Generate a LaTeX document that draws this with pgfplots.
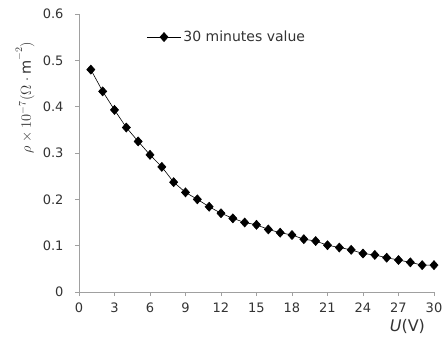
\documentclass[border=0pt]{standalone}
\usepackage{pgfplots}
\pgfplotsset{compat=1.18}
\usepackage{fontspec}
\setmainfont{DejaVu Sans}
\definecolor{axgray}{HTML}{A0A0A0}
\definecolor{txt}{HTML}{333333}
\begin{document}
\begin{tikzpicture}
\begin{axis}[
  scale only axis, width=355pt, height=278pt,
  at={(0,0)}, anchor=south west,
  xmin=0, xmax=30, ymin=0, ymax=0.6,
  xtick={0,3,...,30}, ytick={0,0.1,...,0.6},
  axis lines*=left,
  axis line style={axgray, line width=0.8pt},
  tick style={axgray, line width=0.8pt},
  tick align=outside, major tick length=4pt,
  /pgf/number format/assume math mode=true,
  /pgf/number format/fixed,
  /pgf/number format/precision=1,
  ticklabel style={font=\fontsize{13}{15}\selectfont, text=txt},
  xticklabel style={yshift=-3pt},
  yticklabel style={xshift=-8pt},
  x axis line style={-}, y axis line style={-},
  xlabel={\textit{U}(V)},
  every axis x label/.style={at={(axis description cs:0.925,-0.085)}, anchor=north, font=\fontsize{16}{18}\selectfont, text=txt},
  ylabel={$\rho\times10^{-7}(\Omega\cdot\mathrm{m}^{-2})$},
  every axis y label/.style={at={(axis description cs:-0.152,0.70)}, anchor=center, rotate=90, font=\fontsize{14.5}{17}\selectfont, text=txt},
  legend style={at={(axis description cs:0.19,0.917)}, anchor=west, draw=none, fill=none, font=\fontsize{14}{16}\selectfont, text=txt, inner sep=0pt},
  legend cell align=left,
  legend image code/.code={\draw[mark repeat=2,mark phase=2] plot coordinates {(0cm,0cm) (0.6cm,0cm) (1.2cm,0cm)};},
]
\addplot[black, line width=0.6pt, mark=diamond*, mark size=4.5pt, mark options={fill=black, xscale=1.2}] coordinates {
(1,0.480) (2,0.433) (3,0.393) (4,0.355) (5,0.325) (6,0.296) (7,0.270)
(8,0.237) (9,0.215) (10,0.200) (11,0.184) (12,0.170) (13,0.159) (14,0.150)
(15,0.145) (16,0.135) (17,0.128) (18,0.123) (19,0.114) (20,0.110) (21,0.101)
(22,0.096) (23,0.091) (24,0.083) (25,0.080) (26,0.074) (27,0.069) (28,0.064)
(29,0.058) (30,0.058)};
\addlegendentry{30 minutes value}
\end{axis}
\path (-79pt,-48pt) rectangle (367pt,292pt);
\end{tikzpicture}
\end{document}
